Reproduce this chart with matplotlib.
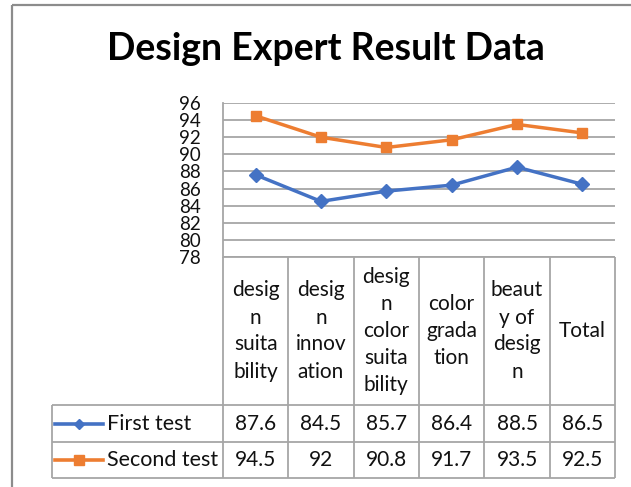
import matplotlib
matplotlib.use('Agg')
import matplotlib.pyplot as plt

# data
categories = ['desig\nn\nsuita\nbility', 'desig\nn\ninnov\nation',
              'desig\nn\ncolor\nsuita\nbility', 'color\ngrada\ntion',
              'beaut\ny of\ndesig\nn', 'Total']
series_names = ['First test', 'Second test']
first_test = [87.6, 84.5, 85.7, 86.4, 88.5, 86.5]
second_test = [94.5, 92, 90.8, 91.7, 93.5, 92.5]
y_ticks = [78, 80, 82, 84, 86, 88, 90, 92, 94, 96]

BLUE = '#4472C4'
ORANGE = '#ED7D31'
GRID = '#a6a6a6'
FONT = 'Lato'
TXT = '#111111'

W, H = 631, 487
fig = plt.figure(figsize=(W / 100, H / 100), dpi=100)

def fx(px):
    return px / W

def fy(py):
    return 1 - py / H

# pixel layout
plot_l, plot_r, plot_t, plot_b = 223, 615, 103, 257
leg_l = 52
row_lines = [405, 442, 478]

# overlay axes in pixel coordinates for frame + table
ov = fig.add_axes([0, 0, 1, 1])
ov.set_xlim(0, W)
ov.set_ylim(H, 0)
ov.axis('off')

# outer chart frame (cropped at right/bottom)
ov.plot([12, 12], [5, H], color='#8c8c8c', lw=1.6, solid_capstyle='butt')
ov.plot([12, W], [5, 5], color='#8c8c8c', lw=1.6, solid_capstyle='butt')

ov.text(326, 60, 'Design Expert Result Data', ha='center', va='baseline',
        fontsize=27, fontweight='bold', family=FONT, color='black')

# main plot
ax = fig.add_axes([fx(plot_l), fy(plot_b), fx(plot_r) - fx(plot_l), fy(plot_t) - fy(plot_b)])
n = len(categories)
xs = [i + 0.5 for i in range(n)]
ax.plot(xs, first_test, color=BLUE, lw=2.5, marker='D', ms=7.5, zorder=3)
ax.plot(xs, second_test, color=ORANGE, lw=2.5, marker='s', ms=7.5, zorder=3)
ax.set_xlim(0, n)
ax.set_ylim(y_ticks[0], y_ticks[-1])
ax.set_yticks(y_ticks)
ax.set_xticks([])
ax.yaxis.grid(True, color=GRID, lw=1.3)
ax.set_axisbelow(True)
for s in ['top', 'right', 'bottom']:
    ax.spines[s].set_visible(False)
ax.spines['left'].set_color(GRID)
ax.spines['left'].set_linewidth(1.3)
ax.tick_params(axis='y', length=0, pad=16, labelsize=13.5, labelcolor=TXT)
for lab in ax.get_yticklabels():
    lab.set_family(FONT)
ax.patch.set_alpha(0)

# data table
col_w = (plot_r - plot_l) / n
col_x = [plot_l + col_w * i for i in range(n + 1)]
tkw = dict(color=GRID, lw=1.3, solid_capstyle='butt')
ov.plot([plot_l, plot_r], [plot_b, plot_b], **tkw)
for x in col_x:
    ov.plot([x, x], [plot_b, row_lines[-1]], **tkw)
for y in row_lines:
    ov.plot([leg_l, plot_r], [y, y], **tkw)
ov.plot([leg_l, leg_l], [row_lines[0], row_lines[-1]], **tkw)

head_mid = (plot_b + row_lines[0]) / 2
line_step = 27
for i, cat in enumerate(categories):
    parts = cat.split('\n')
    cx = col_x[i] + col_w / 2
    y0 = head_mid - line_step * (len(parts) - 1) / 2
    for k, p in enumerate(parts):
        ov.text(cx, y0 + k * line_step, p, ha='center', va='center',
                fontsize=15, family=FONT, color=TXT)

for r, (name, vals, col, mk, ms) in enumerate([
        (series_names[0], first_test, BLUE, 'D', 5.5),
        (series_names[1], second_test, ORANGE, 's', 6.5)]):
    cy = (row_lines[r] + row_lines[r + 1]) / 2
    ov.plot([55, 103], [cy, cy], color=col, lw=2.6, marker=None)
    ov.plot([79], [cy], color=col, marker=mk, ms=ms)
    ov.text(107, cy, name, ha='left', va='center', fontsize=15.5, family=FONT, color=TXT)
    for i, v in enumerate(vals):
        ov.text(col_x[i] + col_w / 2, cy, f'{v:g}', ha='center', va='center',
                fontsize=15, family=FONT, color=TXT)

fig.savefig('out.png', dpi=100)
